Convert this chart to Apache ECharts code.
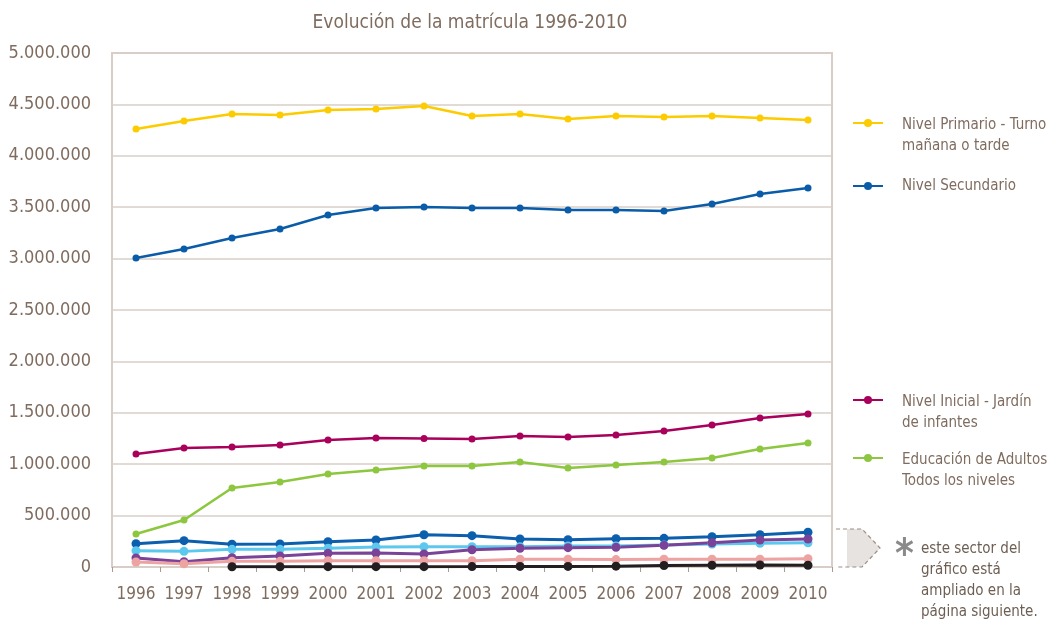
<!DOCTYPE html>
<html>
<head>
<meta charset="utf-8">
<script src="https://cdn.jsdelivr.net/npm/echarts@6/dist/echarts.min.js"></script>
<style>html,body{margin:0;padding:0;background:#fff;}#c{width:1050px;height:622px;}</style>
</head>
<body>
<div id="c"></div>
<script>
const years = ['1996','1997','1998','1999','2000','2001','2002','2003','2004','2005','2006','2007','2008','2009','2010'];
const yTicks = [0, 500000, 1000000, 1500000, 2000000, 2500000, 3000000, 3500000, 4000000, 4500000, 5000000];

const primario = [4261000, 4339000, 4407000, 4397000, 4446000, 4455000, 4485000, 4387000, 4407000, 4358000, 4387000, 4377000, 4387000, 4368000, 4348000];
const secundario = [3006000, 3093000, 3200000, 3288000, 3424000, 3492000, 3502000, 3492000, 3492000, 3473000, 3473000, 3463000, 3531000, 3628000, 3687000];
const inicial = [1099000, 1158000, 1167000, 1187000, 1235000, 1255000, 1250000, 1245000, 1274000, 1265000, 1284000, 1323000, 1381000, 1449000, 1488000];
const adultos = [321000, 457000, 768000, 827000, 905000, 944000, 982000, 982000, 1021000, 963000, 992000, 1021000, 1060000, 1148000, 1206000];

const smallBlue = [227000, 256000, 221000, 224000, 246000, 263000, 314000, 305000, 272000, 266000, 276000, 279000, 295000, 314000, 338000];
const smallCyan = [159000, 152000, 172000, 172000, 182000, 195000, 198000, 198000, 198000, 204000, 204000, 214000, 224000, 230000, 236000];
const smallPurple = [88000, 52000, 91000, 107000, 133000, 136000, 126000, 168000, 182000, 188000, 191000, 211000, 236000, 263000, 272000];
const smallPink = [49000, 32000, 55000, 55000, 61000, 61000, 61000, 61000, 75000, 75000, 72000, 75000, 75000, 75000, 81000];
const smallBlack = [null, null, 2000, 2000, 3000, 3000, 3000, 4000, 6000, 6000, 8000, 15000, 17000, 19000, 17000];

const names = {
  primario: 'Nivel Primario - Turno\nmañana o tarde',
  secundario: 'Nivel Secundario',
  inicial: 'Nivel Inicial - Jardín\nde infantes',
  adultos: 'Educación de Adultos\nTodos los niveles'
};
const noteText = 'este sector del\ngráfico está\nampliado en la\npágina siguiente.';

const FONT = "'DejaVu Sans Condensed', 'Roboto', sans-serif";
const TXT = '#7f6c5f';
const GRID = '#d8cec7';

function fmt(v) {
  return String(v).replace(/\B(?=(\d{3})+(?!\d))/g, '.');
}

function mainSeries(name, data, color) {
  return {
    type: 'line', name: name, data: data,
    symbol: 'circle', symbolSize: 7,
    lineStyle: { color: color, width: 2.5 },
    itemStyle: { color: color },
    z: 3
  };
}
function smallSeries(name, data, color) {
  return {
    type: 'line', name: name, data: data,
    symbol: 'circle', symbolSize: 9,
    lineStyle: { color: color, width: 3 },
    itemStyle: { color: color },
    z: 2
  };
}

function legendFor(name, top, twoLine) {
  return {
    show: true, data: [name], orient: 'vertical',
    left: 852, top: top, padding: 0,
    itemWidth: 30, itemHeight: 10,
    formatter: function (n) {
      if (!twoLine) return '{t|' + n + '}';
      const parts = n.split('\n');
      return '{s| }\n{t|' + parts[0] + '}\n{t|' + parts[1] + '}';
    },
    textStyle: {
      color: TXT, fontFamily: FONT, fontSize: 15,
      padding: [0, 0, 0, 14],
      rich: {
        s: { fontSize: 15, lineHeight: 25, fontFamily: FONT, color: TXT },
        t: { fontSize: 15, lineHeight: 21, fontFamily: FONT, color: TXT }
      }
    }
  };
}

const chart = echarts.init(document.getElementById('c'));
chart.setOption({
  animation: false,
  backgroundColor: '#fff',
  title: {
    text: 'Evolución de la matrícula 1996-2010',
    left: 465, top: 9, textAlign: 'center',
    textStyle: { color: TXT, fontFamily: FONT, fontSize: 19, fontWeight: 'normal' }
  },
  legend: [
    legendFor(names.primario, 94.5, true),
    legendFor(names.secundario, 178.5, false),
    legendFor(names.inicial, 371.5, true),
    legendFor(names.adultos, 429.5, true)
  ],
  grid: {
    left: 112, right: 218, top: 53, bottom: 55,
    show: true, borderColor: GRID, borderWidth: 2, backgroundColor: 'transparent'
  },
  xAxis: {
    type: 'category', data: years, boundaryGap: true,
    axisLine: { lineStyle: { color: GRID, width: 2 } },
    axisTick: { show: true, length: 5, lineStyle: { color: '#a89a90', width: 1 } },
    axisLabel: { color: TXT, fontFamily: FONT, fontSize: 17, margin: 19, interval: 0 }
  },
  yAxis: {
    type: 'value', min: yTicks[0], max: yTicks[yTicks.length - 1], interval: yTicks[1] - yTicks[0],
    axisLine: { show: false }, axisTick: { show: false },
    splitLine: { lineStyle: { color: GRID, width: 1.5 } },
    axisLabel: { color: TXT, fontFamily: FONT, fontSize: 18, margin: 21, formatter: fmt }
  },
  series: [
    smallSeries('Serie A', smallBlue, '#0b5fad'),
    smallSeries('Serie B', smallCyan, '#5cc8ee'),
    smallSeries('Serie C', smallPurple, '#7b4398'),
    smallSeries('Serie D', smallPink, '#eea3a3'),
    smallSeries('Serie E', smallBlack, '#231f20'),
    mainSeries(names.adultos, adultos, '#8dc63f'),
    mainSeries(names.inicial, inicial, '#a9005b'),
    mainSeries(names.secundario, secundario, '#0a5ca8'),
    mainSeries(names.primario, primario, '#fccb00')
  ],
  graphic: [
    {
      type: 'polygon', z: 1,
      shape: { points: [[847, 529], [862, 529], [880, 548], [862, 567], [847, 567]] },
      style: { fill: '#e7e3e0' }
    },
    {
      type: 'polyline', z: 2,
      shape: { points: [[836, 529], [862, 529], [880, 548], [862, 567], [836, 567]] },
      style: { stroke: '#9c8d83', lineWidth: 1.2, lineDash: [4, 3], fill: null }
    },
    {
      type: 'text', left: 895, top: 537,
      style: { text: '*', fill: '#8a8a8a', font: 'bold 40px ' + FONT }
    },
    {
      type: 'text', left: 921, top: 539,
      style: { text: noteText, fill: '#6d5e53', font: '15px ' + FONT, lineHeight: 21 }
    }
  ]
});
</script>
</body>
</html>
